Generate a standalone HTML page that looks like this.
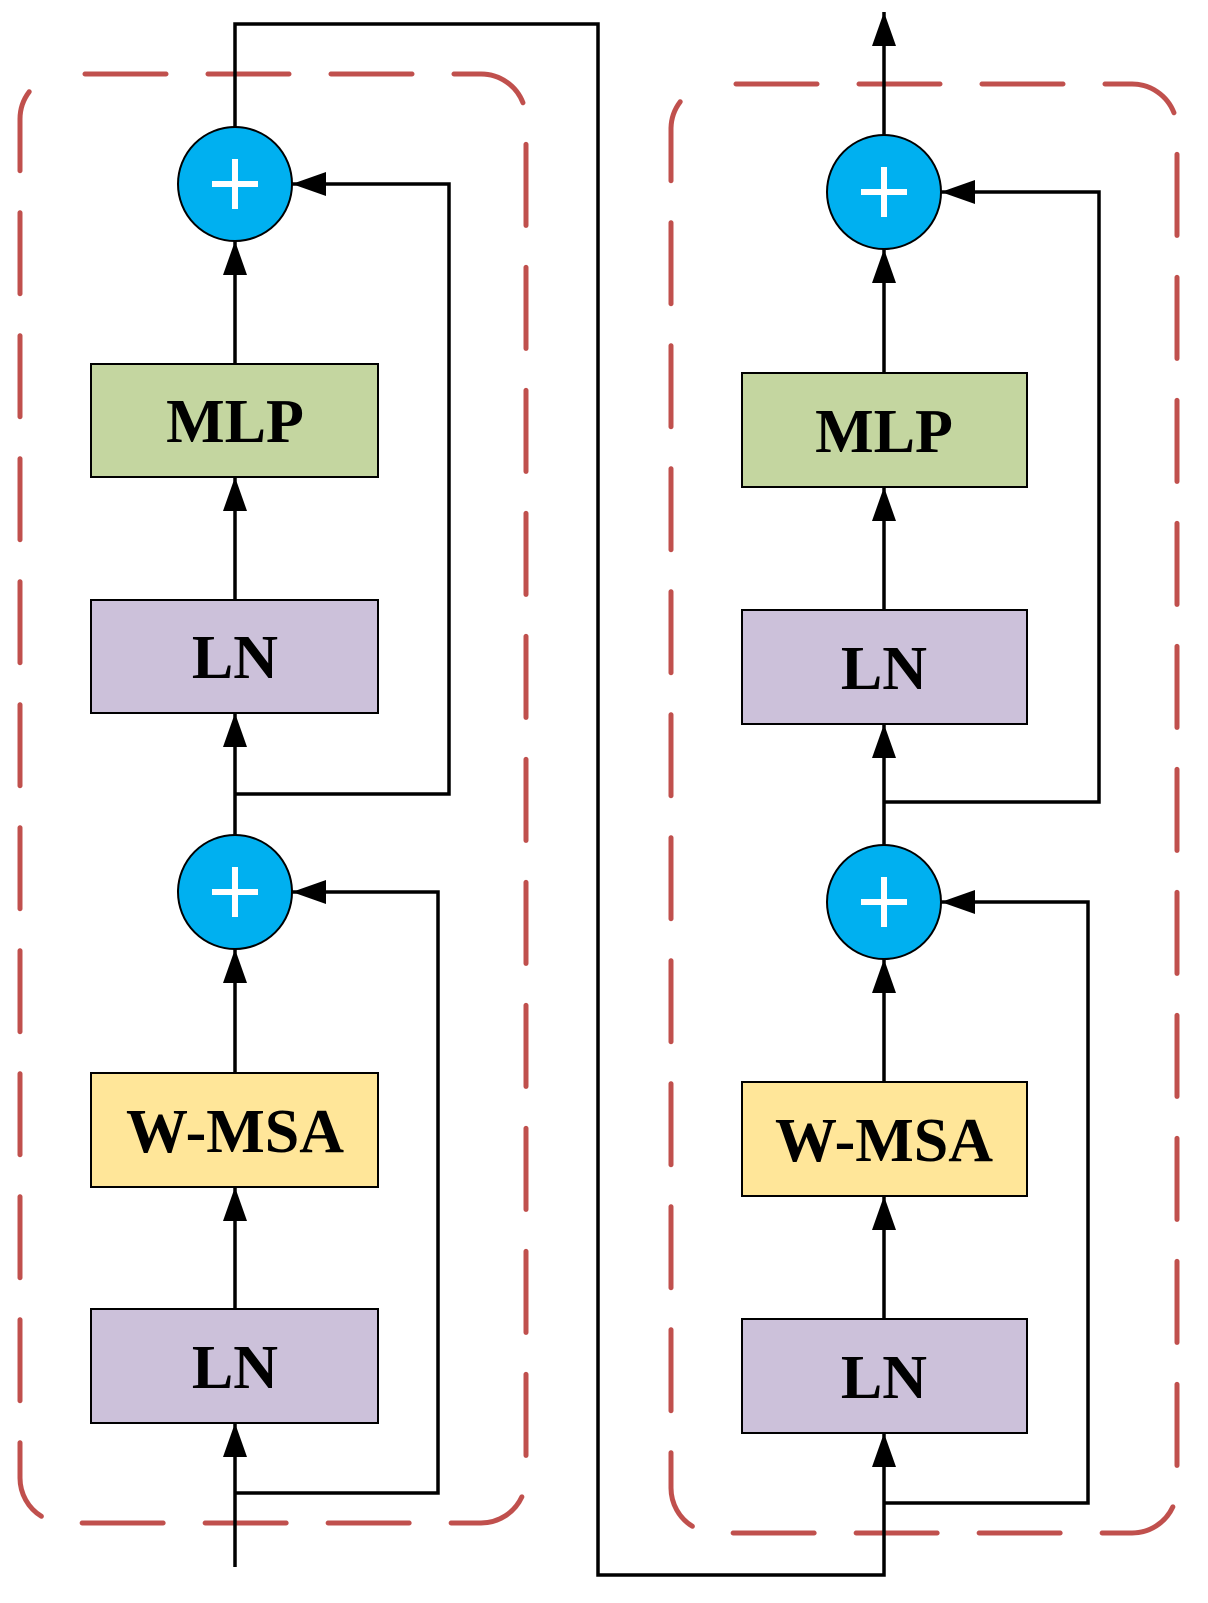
<!DOCTYPE html>
<html><head><meta charset="utf-8"><style>
html,body{margin:0;padding:0;background:#fff;}
svg{display:block}
text{font-family:"Liberation Serif",serif;font-weight:bold;font-size:62px;text-anchor:middle;}
</style></head><body>
<svg width="1208" height="1603" viewBox="0 0 1208 1603" xmlns="http://www.w3.org/2000/svg">
<defs>
<marker id="a" markerWidth="34" markerHeight="24" refX="34" refY="12" orient="auto" markerUnits="userSpaceOnUse">
<path d="M0,0 L34,12 L0,24 z" fill="#000"/></marker>
</defs>
<rect x="20" y="74" width="506" height="1449" rx="45" fill="none" stroke="#c0504d" stroke-width="5" stroke-dasharray="81 42" stroke-dashoffset="-20" stroke-linecap="round"/>
<rect x="671" y="84" width="506" height="1449" rx="45" fill="none" stroke="#c0504d" stroke-width="5" stroke-dasharray="81 42" stroke-dashoffset="-20" stroke-linecap="round"/>

<g stroke="#000" stroke-width="3.5" fill="none">
<line x1="235" y1="1567" x2="235" y2="1423" marker-end="url(#a)"/>
<line x1="235" y1="1309" x2="235" y2="1187" marker-end="url(#a)"/>
<line x1="235" y1="1073" x2="235" y2="949" marker-end="url(#a)"/>
<line x1="235" y1="835" x2="235" y2="713" marker-end="url(#a)"/>
<line x1="235" y1="600" x2="235" y2="477" marker-end="url(#a)"/>
<line x1="235" y1="364" x2="235" y2="241" marker-end="url(#a)"/>
<polyline points="235,1493 438,1493 438,892 292,892" marker-end="url(#a)"/>
<polyline points="235,794 449,794 449,184 292,184" marker-end="url(#a)"/>
<polyline points="235,127 235,24 598,24 598,1575 884,1575 884,1433" marker-end="url(#a)"/>
<line x1="884" y1="1319" x2="884" y2="1196" marker-end="url(#a)"/>
<line x1="884" y1="1082" x2="884" y2="959" marker-end="url(#a)"/>
<line x1="884" y1="845" x2="884" y2="724" marker-end="url(#a)"/>
<line x1="884" y1="610" x2="884" y2="487" marker-end="url(#a)"/>
<line x1="884" y1="373" x2="884" y2="249" marker-end="url(#a)"/>
<polyline points="884,1503 1088,1503 1088,902 941,902" marker-end="url(#a)"/>
<polyline points="884,802 1099,802 1099,192 941,192" marker-end="url(#a)"/>
<line x1="884" y1="135" x2="884" y2="12" marker-end="url(#a)"/>
</g>

<g stroke="#000" stroke-width="2">
<rect x="91" y="364" width="287" height="113" fill="#c4d6a0"/>
<rect x="91" y="600" width="287" height="113" fill="#ccc1da"/>
<rect x="91" y="1073" width="287" height="114" fill="#ffe699"/>
<rect x="91" y="1309" width="287" height="114" fill="#ccc1da"/>
<rect x="742" y="373" width="285" height="114" fill="#c4d6a0"/>
<rect x="742" y="610" width="285" height="114" fill="#ccc1da"/>
<rect x="742" y="1082" width="285" height="114" fill="#ffe699"/>
<rect x="742" y="1319" width="285" height="114" fill="#ccc1da"/>
<ellipse cx="235" cy="184" rx="57" ry="57" fill="#00b0f0"/>
<ellipse cx="235" cy="892" rx="57" ry="57" fill="#00b0f0"/>
<ellipse cx="884" cy="192" rx="57" ry="57" fill="#00b0f0"/>
<ellipse cx="884" cy="902" rx="57" ry="57" fill="#00b0f0"/>
</g>
<g stroke="#fff" stroke-width="6">
<path d="M212,184 H258 M235,159 V209"/>
<path d="M212,892 H258 M235,867 V917"/>
<path d="M861,192 H907 M884,167 V217"/>
<path d="M861,902 H907 M884,877 V927"/>
</g>
<g fill="#000">
<text x="235" y="442">MLP</text>
<text x="235" y="678">LN</text>
<text x="235" y="1152">W-MSA</text>
<text x="235" y="1388">LN</text>
<text x="884" y="452">MLP</text>
<text x="884" y="689">LN</text>
<text x="884" y="1161">W-MSA</text>
<text x="884" y="1398">LN</text>
</g>
</svg>
</body></html>
